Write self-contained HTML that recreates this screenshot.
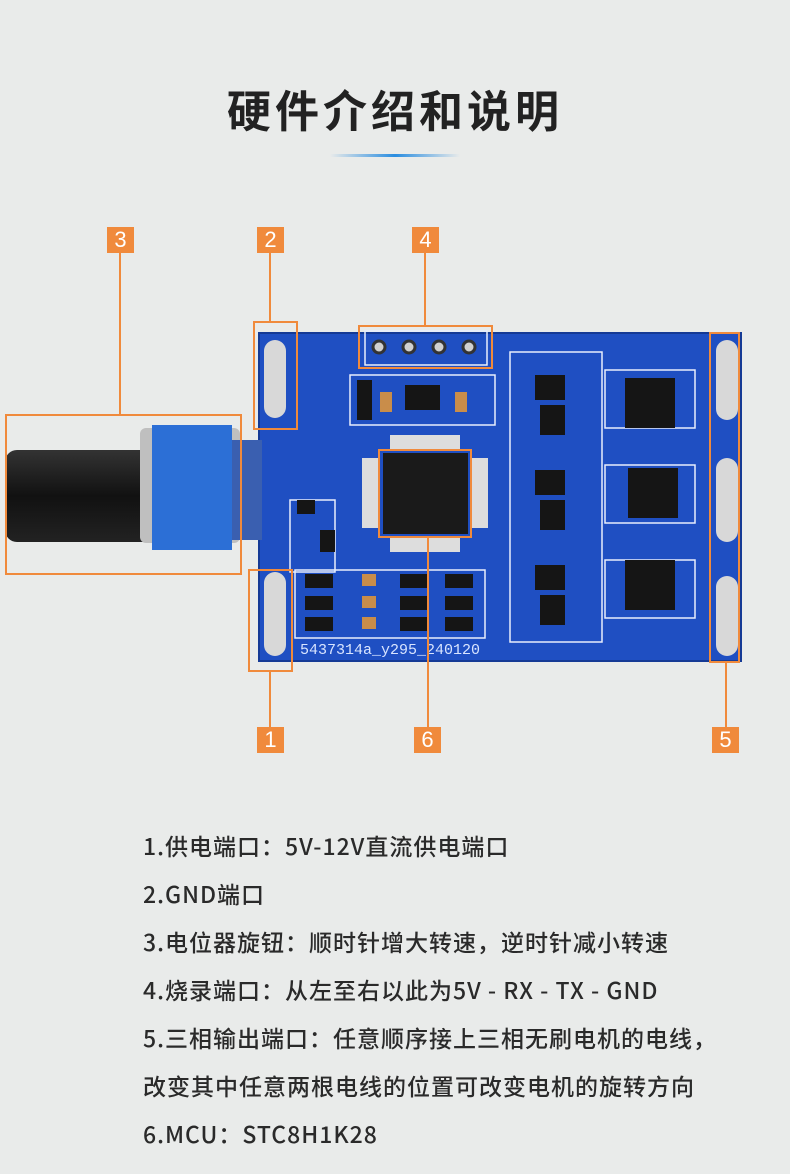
<!DOCTYPE html>
<html><head><meta charset="utf-8"><style>
body{margin:0;width:790px;height:1174px;background:#e9ebea;position:relative;overflow:hidden;font-family:"Liberation Sans","Noto Sans CJK SC",sans-serif}
.t{position:absolute;left:0;width:790px;top:76px;text-align:center;font-size:44px;font-weight:bold;color:#222;letter-spacing:4px}
.l{position:absolute;left:143px;font-size:23px;letter-spacing:1px;color:#2a2a2a;white-space:nowrap;font-family:"Noto Sans CJK SC","Liberation Sans",sans-serif;font-weight:500;line-height:28px}
.n{position:absolute;width:27px;height:26px;background:#f08a3c;color:#fff;font-size:22px;line-height:26px;text-align:center}
</style></head><body>
<div class="t">硬件介绍和说明</div>
<div style="position:absolute;left:330px;top:154px;width:130px;height:3px;background:linear-gradient(90deg,rgba(40,140,230,0),#2a8de0,rgba(40,140,230,0))"></div>
<svg width="790" height="1174" style="position:absolute;left:0;top:0">
<defs><linearGradient id="k" x1="0" y1="0" x2="0" y2="1"><stop offset="0" stop-color="#333"/><stop offset=".5" stop-color="#111"/><stop offset="1" stop-color="#222"/></linearGradient></defs>
<rect x="259" y="333" width="482" height="328" fill="#1f4fc2"/>
<rect x="259" y="333" width="482" height="328" fill="none" stroke="#153a95" stroke-width="2"/>
<g fill="#d8d8d8">
<rect x="264" y="340" width="22" height="78" rx="11"/><rect x="264" y="572" width="22" height="84" rx="11"/>
<rect x="716" y="340" width="22" height="80" rx="11"/><rect x="716" y="458" width="22" height="84" rx="11"/><rect x="716" y="576" width="22" height="80" rx="11"/>
</g>
<g fill="none" stroke="#e8eefc" stroke-width="1.5">
<rect x="365" y="331" width="122" height="34"/>
<rect x="290" y="500" width="45" height="72"/><rect x="295" y="570" width="190" height="68"/>
<rect x="510" y="352" width="92" height="290"/><rect x="605" y="370" width="90" height="58"/><rect x="605" y="465" width="90" height="58"/><rect x="605" y="560" width="90" height="58"/>
<rect x="350" y="375" width="145" height="50"/>
</g>
<g fill="#d0d0d0" stroke="#333" stroke-width="3">
<circle cx="379" cy="347" r="6"/><circle cx="409" cy="347" r="6"/><circle cx="439" cy="347" r="6"/><circle cx="469" cy="347" r="6"/>
</g>
<g fill="#ddd">
<rect x="390" y="435" width="70" height="14"/><rect x="390" y="538" width="70" height="14"/>
<rect x="362" y="458" width="16" height="70"/><rect x="472" y="458" width="16" height="70"/>
</g>
<rect x="383" y="453" width="85" height="81" fill="#1a1a1a"/>
<g fill="#151515">
<rect x="357" y="380" width="15" height="40"/><rect x="405" y="385" width="35" height="25"/>
<rect x="625" y="378" width="50" height="50"/><rect x="628" y="468" width="50" height="50"/><rect x="625" y="560" width="50" height="50"/>
<rect x="535" y="375" width="30" height="25"/><rect x="540" y="405" width="25" height="30"/><rect x="535" y="470" width="30" height="25"/><rect x="540" y="500" width="25" height="30"/><rect x="535" y="565" width="30" height="25"/><rect x="540" y="595" width="25" height="30"/>
<rect x="297" y="500" width="18" height="14"/><rect x="320" y="530" width="15" height="22"/>
<rect x="305" y="574" width="28" height="14"/><rect x="305" y="596" width="28" height="14"/><rect x="305" y="617" width="28" height="14"/>
<rect x="400" y="574" width="28" height="14"/><rect x="400" y="596" width="28" height="14"/><rect x="400" y="617" width="28" height="14"/>
<rect x="445" y="574" width="28" height="14"/><rect x="445" y="596" width="28" height="14"/><rect x="445" y="617" width="28" height="14"/>
</g>
<g fill="#c98d4a"><rect x="362" y="574" width="14" height="12"/><rect x="362" y="596" width="14" height="12"/><rect x="362" y="617" width="14" height="12"/><rect x="380" y="392" width="12" height="20"/><rect x="455" y="392" width="12" height="20"/></g>
<text x="300" y="654" fill="#d8e4ff" font-family="Liberation Mono,monospace" font-size="15">5437314a_y295_240120</text>
<rect x="5" y="450" width="150" height="92" rx="12" fill="url(#k)"/>
<rect x="140" y="428" width="100" height="115" rx="6" fill="#bfbfbf"/>
<rect x="152" y="425" width="80" height="125" fill="#2c6fd6"/>
<rect x="232" y="440" width="30" height="100" fill="#3a5fb0"/>
<g fill="none" stroke="#f08a3c" stroke-width="2">
<rect x="6" y="415" width="235" height="159"/><line x1="120" y1="253" x2="120" y2="415"/>
<rect x="254" y="322" width="43" height="107"/><line x1="270" y1="253" x2="270" y2="322"/>
<rect x="359" y="326" width="133" height="42"/><line x1="425" y1="253" x2="425" y2="326"/>
<rect x="249" y="570" width="43" height="101"/><line x1="270" y1="671" x2="270" y2="727"/>
<rect x="379" y="450" width="92" height="87"/><line x1="428" y1="537" x2="428" y2="727"/>
<rect x="710" y="333" width="29" height="329"/><line x1="726" y1="662" x2="726" y2="727"/>
</g>
</svg>
<div class="n" style="left:107px;top:227px">3</div>
<div class="n" style="left:257px;top:227px">2</div>
<div class="n" style="left:412px;top:227px">4</div>
<div class="n" style="left:257px;top:727px">1</div>
<div class="n" style="left:414px;top:727px">6</div>
<div class="n" style="left:712px;top:727px">5</div>
<div class="l" style="top:831px">1.供电端口：5V-12V直流供电端口</div>
<div class="l" style="top:879px">2.GND端口</div>
<div class="l" style="top:927px">3.电位器旋钮：顺时针增大转速，逆时针减小转速</div>
<div class="l" style="top:975px">4.烧录端口：从左至右以此为5V - RX - TX - GND</div>
<div class="l" style="top:1023px">5.三相输出端口：任意顺序接上三相无刷电机的电线，</div>
<div class="l" style="top:1071px">改变其中任意两根电线的位置可改变电机的旋转方向</div>
<div class="l" style="top:1119px">6.MCU：STC8H1K28</div>
</body></html>
